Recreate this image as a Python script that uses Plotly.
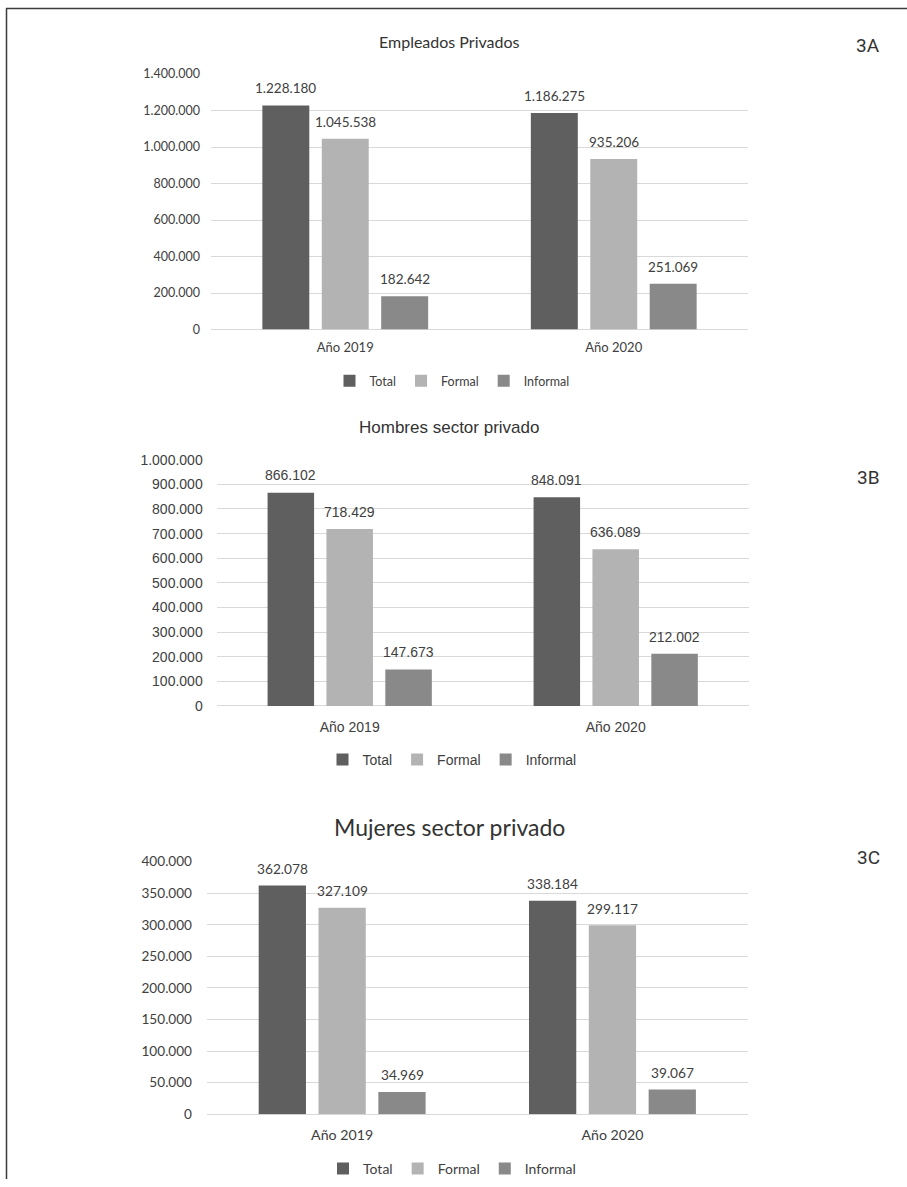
import plotly.graph_objects as go

# ---------------- data ----------------
categories = ["Año 2019", "Año 2020"]
series_names = ["Total", "Formal", "Informal"]

a_total = [1228180, 1186275]
a_formal = [1045538, 935206]
a_informal = [182642, 251069]

b_total = [866102, 848091]
b_formal = [718429, 636089]
b_informal = [147673, 212002]

c_total = [362078, 338184]
c_formal = [327109, 299117]
c_informal = [34969, 39067]

titles = ["Empleados Privados", "Hombres sector privado", "Mujeres sector privado"]
panel_tags = ["3A", "3B", "3C"]

# ---------------- style ----------------
W, H = 907, 1187
colors = ["#5f5f5f", "#b3b3b3", "#898989"]
text_color = "#404040"

# vertical pixel -> paper fraction (compensates the page offset seen in the capture)
V_SCALE, V_OFF = 0.9867, 7.9


def py(pix):
    return 1 - ((pix - V_OFF) / V_SCALE) / H


panels = [
    dict(data=[a_total, a_formal, a_informal], xdom=(211, 748), ydom=(74, 329.5),
         yrange=[0, 1400000], dtick=200000, font="Lato", tick=12.5, lab=13.5, cat=13,
         leg=12.5, title=16, title_y=41, legend_y=381, tag_y=45, slot=59.3,
         ystand=10, xstand=8),
    dict(data=[b_total, b_formal, b_informal], xdom=(216.7, 748.7), ydom=(459.7, 706),
         yrange=[0, 1000000], dtick=100000, font="Liberation Sans", tick=14, lab=14, cat=14,
         leg=14, title=17, title_y=427, legend_y=760, tag_y=477, slot=58.75,
         ystand=13, xstand=11),
    dict(data=[c_total, c_formal, c_informal], xdom=(207, 747.6), ydom=(861.7, 1114.3),
         yrange=[0, 400000], dtick=50000, font="Lato", tick=13.6, lab=13.7, cat=14.2,
         leg=14, title=23, title_y=827, legend_y=1169, tag_y=858, slot=60,
         ystand=14, xstand=11),
]


def fmt(v):
    return f"{v:,}".replace(",", ".")


fig = go.Figure()
annotations = []
layout_axes = {}

for p_i, p in enumerate(panels):
    sfx = "" if p_i == 0 else str(p_i + 1)
    xa, ya = "x" + sfx, "y" + sfx
    legend_name = "legend" + sfx
    for s_i, (name, vals) in enumerate(zip(series_names, p["data"])):
        fig.add_trace(go.Bar(
            x=categories, y=vals, name=name, xaxis=xa, yaxis=ya,
            marker=dict(color=colors[s_i], line=dict(width=0)),
            legend=legend_name, hoverinfo="x+y+name",
        ))
        for c, v in zip(categories, vals):
            annotations.append(dict(
                x=c, y=v, xref=xa, yref=ya, text=fmt(v), showarrow=False,
                xshift=(s_i - 1) * p["slot"], yshift=17.2, yanchor="middle",
                font=dict(family=p["font"], size=p["lab"], color=text_color),
            ))
    x0, x1 = p["xdom"]
    ytop, ybot = p["ydom"]
    layout_axes["xaxis" + sfx] = dict(
        domain=[x0 / W, x1 / W], anchor=ya, showgrid=False, showline=False,
        ticks="", ticklabelstandoff=p["xstand"],
        tickfont=dict(family=p["font"], size=p["cat"], color=text_color),
    )
    layout_axes["yaxis" + sfx] = dict(
        domain=[py(ybot), py(ytop)], anchor=xa, range=p["yrange"],
        dtick=p["dtick"], tick0=0, tickformat=",d", showgrid=True,
        gridcolor="#d9d9d9", gridwidth=1, zeroline=True, zerolinecolor="#d9d9d9",
        zerolinewidth=1, showline=False, ticks="", ticklabelstandoff=p["ystand"],
        tickfont=dict(family=p["font"], size=p["tick"], color=text_color),
    )
    layout_axes[legend_name] = dict(
        orientation="h", x=452 / W, xanchor="center", y=py(p["legend_y"]),
        yanchor="middle", itemwidth=30, traceorder="normal",
        font=dict(family=p["font"], size=p["leg"], color=text_color),
        bgcolor="rgba(0,0,0,0)",
    )
    annotations.append(dict(
        x=449 / W, y=py(p["title_y"]), xref="paper", yref="paper",
        text=titles[p_i], showarrow=False, xanchor="center", yanchor="middle",
        font=dict(family=p["font"], size=p["title"], color="#333333"),
    ))
    annotations.append(dict(
        x=868 / W, y=py(p["tag_y"]), xref="paper", yref="paper",
        text=panel_tags[p_i], showarrow=False, xanchor="center", yanchor="middle",
        font=dict(family="Roboto", size=19, color="#333333"),
    ))

top_line = min(py(8.5), 0.9995)
shapes = [
    dict(type="line", xref="paper", yref="paper", x0=6 / W, x1=1,
         y0=top_line, y1=top_line, line=dict(color="#3a3a3a", width=1.5)),
    dict(type="line", xref="paper", yref="paper", x0=6.5 / W, x1=6.5 / W,
         y0=top_line, y1=0, line=dict(color="#3a3a3a", width=1.5)),
]

fig.update_layout(
    width=W, height=H, margin=dict(l=0, r=0, t=0, b=0),
    paper_bgcolor="white", plot_bgcolor="white",
    separators=",.", barmode="group", bargap=0.336, bargroupgap=0.21,
    showlegend=True, annotations=annotations, shapes=shapes,
    **layout_axes,
)

fig.write_html("out.html")
